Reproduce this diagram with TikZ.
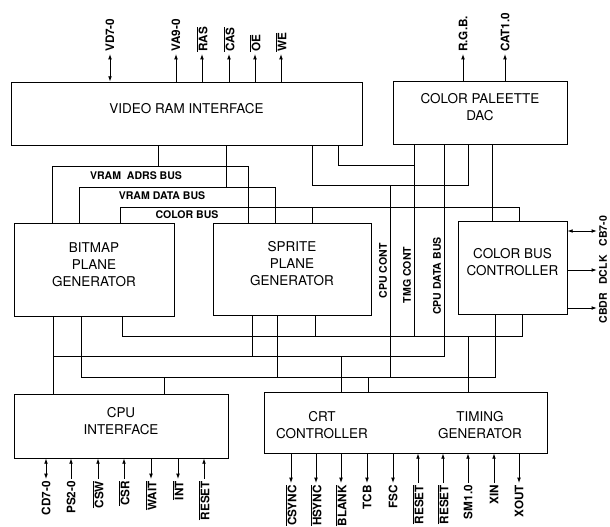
\documentclass[tikz,border=0pt]{standalone}
\usepackage{fontspec}
\setmainfont{TeX Gyre Heros}
\usetikzlibrary{arrows.meta, fit}
\newcommand{\ovl}[1]{$\overline{\mbox{#1}}$}

\begin{document}
\begin{tikzpicture}[x=0.03cm, y=-0.03cm, line width=0.75pt, >={Latex[length=4.5pt,width=3.2pt]},
    blk/.style={draw, inner sep=0pt, align=center, font=\fontsize{11.5}{14.5}\selectfont},
    sig/.style={font=\fontsize{9}{10}\selectfont\bfseries, inner sep=1.5pt},
    pinup/.style={sig, font=\fontsize{10}{11}\selectfont\bfseries, rotate=90, anchor=west},
    pindn/.style={sig, font=\fontsize{10}{11}\selectfont\bfseries, rotate=90, anchor=east}]
  \useasboundingbox (0,0) rectangle (610,527);

  \node[blk, fit={(11,82) (362,145)}] (vram) {VIDEO RAM INTERFACE};
  \node[blk, fit={(393,81) (567,144)}] (dac) {COLOR PALEETTE\\DAC};
  \node[blk, fit={(14,223) (174,316)}] (bitmap) {BITMAP\\PLANE\\GENERATOR};
  \node[blk, fit={(213,223) (371,315)}] (sprite) {SPRITE\\PLANE\\GENERATOR};
  \node[blk, fit={(458,221) (567,314)}] (cbc) {COLOR BUS\\CONTROLLER};
  \node[blk, fit={(14,394) (228,458)}] (cpu) {CPU\\INTERFACE};
  \node[blk, fit={(264,392) (547,453)}] (crt) {};
  \node[blk, draw=none] (crtc) at (322,425) {CRT\\CONTROLLER};
  \node[blk, draw=none] (tmg) at (480,425) {TIMING\\GENERATOR};

  \draw (bitmap.north -| 52,0) |- (248,166) -- (sprite.north -| 248,0);
  \draw (vram.south -| 158,0) -- (158,166);
  \draw (bitmap.north -| 79,0) |- (275,187) -- (sprite.north -| 275,0);
  \draw (vram.south -| 226,0) -- (226,187);
  \draw (bitmap.north -| 120,0) |- (519,207) -- (cbc.north -| 519,0);
  \draw (312,207) -- (sprite.north -| 312,0);
  \draw (vram.south -| 312,0) |- (468,185) -- (dac.south -| 468,0);
  \draw (vram.south -| 338,0) |- (414,165);
  \draw (dac.south -| 414,0) -- (414,336);
  \draw (dac.south -| 444,0) |- (53,356);
  \draw (dac.south -| 492,0) -- (cbc.north -| 492,0);
  \draw (390,185) -- (390,377);
  \draw (bitmap.south -| 122,0) |- (522,336) -- (cbc.south -| 522,0);
  \draw (sprite.south -| 315,0) -- (315,336);
  \draw (468,336) -- (crt.north -| 468,0);
  \draw (bitmap.south -| 53,0) -- (cpu.north -| 53,0);
  \draw (sprite.south -| 252,0) -- (252,356);
  \draw (341,356) -- (crt.north -| 341,0);
  \draw (bitmap.south -| 81,0) |- (495,377) -- (cbc.south -| 495,0);
  \draw (sprite.south -| 277,0) -- (277,377);
  \draw (164,377) -- (cpu.north -| 164,0);
  \draw (368,377) -- (crt.north -| 368,0);

  \node[sig] (adrs) at (136,176) {VRAM~~ADRS BUS};
  \node[sig] (vdat) at (162,196) {VRAM DATA BUS};
  \node[sig] (cbus) at (187,215) {COLOR BUS};
  \node[sig, rotate=90] (cpuc) at (383,271) {CPU CONT};
  \node[sig, rotate=90] (tmgc) at (407,275) {TMG CONT};
  \node[sig, rotate=90] (cpud) at (437,276) {CPU DATA BUS};

  \node[pinup] (vd) at (110,54) {VD7-0};
  \node[pinup] (va) at (176,54) {VA9-0};
  \node[pinup] (ras) at (202,54) {\ovl{RAS}};
  \node[pinup] (cas) at (229,54) {\ovl{CAS}};
  \node[pinup] (oe) at (255,54) {\ovl{OE}};
  \node[pinup] (we) at (281,54) {\ovl{WE}};
  \node[pinup] (rgb) at (463,54) {R.G.B.};
  \node[pinup] (cat) at (505,54) {CAT1.0};
  \draw[<->] (vram.north -| vd.west) -- (vd.west);
  \draw[->] (vram.north -| va.west) -- (va.west);
  \draw[->] (vram.north -| ras.west) -- (ras.west);
  \draw[->] (vram.north -| cas.west) -- (cas.west);
  \draw[->] (vram.north -| oe.west) -- (oe.west);
  \draw[->] (vram.north -| we.west) -- (we.west);
  \draw[->] (dac.north -| rgb.west) -- (rgb.west);
  \draw[->] (dac.north -| cat.west) -- (cat.west);

  \node[sig, rotate=90] (cb) at (603,231) {CB7-0};
  \node[sig, rotate=90] (dclk) at (603,270) {DCLK};
  \node[sig, rotate=90] (cbdr) at (603,308) {CBDR};
  \draw[<->] (cbc.east |- cb.north) -- (cb.north);
  \draw[->] (cbc.east |- dclk.north) -- (dclk.north);
  \draw[->] (cbc.east |- cbdr.north) -- (cbdr.north);

  \node[pindn] (cd) at (46,479) {CD7-0};
  \node[pindn] (ps) at (71,479) {PS2-0};
  \node[pindn] (csw) at (98,479) {\ovl{CSW}};
  \node[pindn] (csr) at (124,479) {\ovl{CSR}};
  \node[pindn] (wait) at (151,479) {\ovl{WAIT}};
  \node[pindn] (int) at (178,479) {\ovl{INT}};
  \node[pindn] (rst) at (204,479) {\ovl{RESET}};
  \draw[<->] (cpu.south -| cd.east) -- (cd.east);
  \draw[<-] (cpu.south -| ps.east) -- (ps.east);
  \draw[<-] (cpu.south -| csw.east) -- (csw.east);
  \draw[<-] (cpu.south -| csr.east) -- (csr.east);
  \draw[->] (cpu.south -| wait.east) -- (wait.east);
  \draw[->] (cpu.south -| int.east) -- (int.east);
  \draw[<-] (cpu.south -| rst.east) -- (rst.east);

  \node[pindn] (csync) at (291,483) {\ovl{CSYNC}};
  \node[pindn] (hsync) at (316,483) {\ovl{HSYNC}};
  \node[pindn] (blank) at (341,483) {\ovl{BLANK}};
  \node[pindn] (tcb) at (367,483) {TCB};
  \node[pindn] (fsc) at (393,483) {FSC};
  \node[pindn] (rsta) at (418,483) {\ovl{RESET}};
  \node[pindn] (rstb) at (443,483) {\ovl{RESET}};
  \node[pindn] (sm) at (468,483) {SM1.0};
  \node[pindn] (xin) at (494,483) {XIN};
  \node[pindn] (xout) at (519,483) {XOUT};
  \draw[->] (crt.south -| csync.east) -- (csync.east);
  \draw[->] (crt.south -| hsync.east) -- (hsync.east);
  \draw[->] (crt.south -| blank.east) -- (blank.east);
  \draw[->] (crt.south -| tcb.east) -- (tcb.east);
  \draw[->] (crt.south -| fsc.east) -- (fsc.east);
  \draw[<-] (crt.south -| rsta.east) -- (rsta.east);
  \draw[<-] (crt.south -| rstb.east) -- (rstb.east);
  \draw[<-] (crt.south -| sm.east) -- (sm.east);
  \draw[<-] (crt.south -| xin.east) -- (xin.east);
  \draw[->] (crt.south -| xout.east) -- (xout.east);
\end{tikzpicture}
\end{document}
